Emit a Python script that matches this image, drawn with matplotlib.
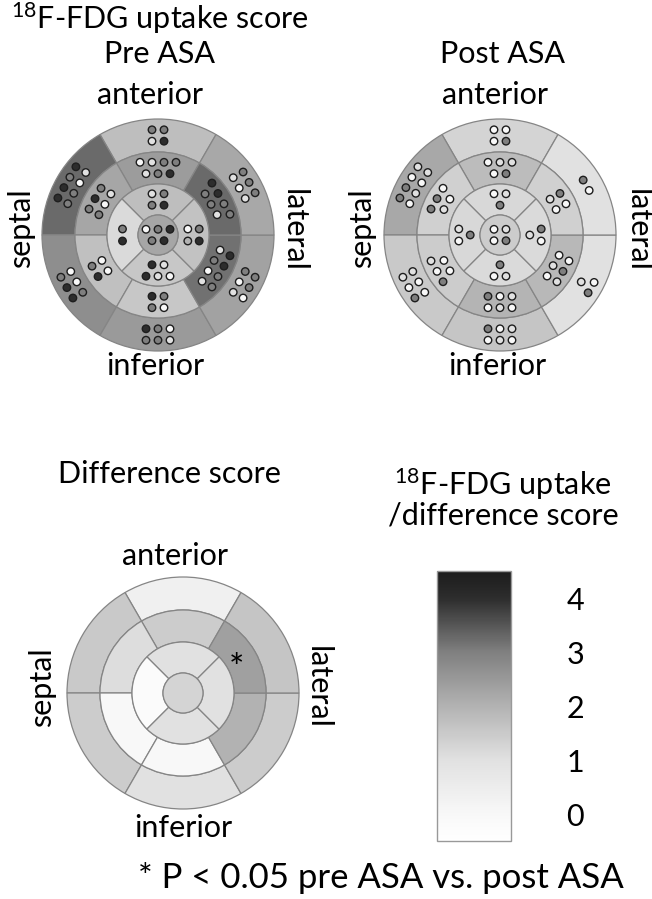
import numpy as np
import matplotlib
matplotlib.use('Agg')
import matplotlib.pyplot as plt
from matplotlib.patches import Wedge, Circle
from matplotlib.colors import LinearSegmentedColormap, Normalize

plt.rcParams['font.family'] = ['Lato', 'DejaVu Sans']
plt.rcParams['mathtext.fontset'] = 'custom'
plt.rcParams['mathtext.rm'] = 'Lato'

# segment scores (AHA 17-segment order: 1-6 basal, 7-12 mid, 13-16 apical, 17 apex)
pre_scores = [1.74, 3.26, 2.72, 2.48, 2.32, 2.20,
              2.44, 2.24, 1.70, 1.57, 3.18, 3.26,
              1.74, 1.15, 1.57, 1.66, 2.24]
post_scores = [1.28, 2.20, 1.53, 1.60, 1.02, 1.02,
               1.79, 1.36, 1.45, 1.96, 1.87, 1.36,
               1.19, 1.19, 1.15, 1.15, 1.45]
diff_scores = [0.35, 1.53, 1.45, 1.00, 1.45, 1.60,
               1.45, 1.10, 0.00, 0.00, 2.00, 2.36,
               1.00, -0.20, 1.00, 1.00, 1.28]

# individual patient scores shown as dots in each segment
pre_dots = [
    [3, 3, 1, 4], [4, 4, 3, 4, 3, 3, 0, 1], [4, 4, 3, 3, 0, 0], [1, 3, 3, 0, 3, 4],
    [3, 3, 0, 3, 0, 1], [3, 3, 3, 1, 0, 1],
    [0, 1, 3, 3, 1, 3, 4], [3, 4, 3, 3, 0, 1], [4, 3, 0, 0], [0, 3, 3, 4],
    [4, 4, 3, 3, 1, 3, 0, 1], [4, 4, 3, 3, 3, 3, 1],
    [1, 3, 3, 4], [4, 3], [0, 1, 4, 1, 4], [3, 4, 0, 2],
    [0, 3, 4, 3, 4],
]
post_dots = [
    [0, 0, 0, 3], [3, 3, 0, 1, 0, 1, 0, 1], [3, 0, 1, 0, 0, 1], [0, 1, 0, 1, 0, 3],
    [0, 3, 1], [3, 0],
    [0, 1, 1, 0, 3], [3, 3, 0, 1, 0], [3, 0, 1, 0, 0], [0, 1, 0, 1, 0, 3],
    [0, 3, 1, 0, 1, 0], [3, 0, 1, 0],
    [0, 1, 3], [0, 1, 3], [1, 0, 3], [3, 0, 1],
    [0, 1, 0, 3],
]
cbar_ticks = [0, 1, 2, 3, 4]

W, H = 652, 899
R = 116.0
ring = [20 / R, 51 / R, 83 / R, 1.0]

# grey scale used in the figure
nodes = [(-0.5, 255), (0, 248), (1, 225), (2, 178), (3, 128), (4, 45), (4.5, 28)]
vmin, vmax = -0.5, 4.5
cmap = LinearSegmentedColormap.from_list(
    'fdg', [((v - vmin) / (vmax - vmin), (g / 255,) * 3) for v, g in nodes])
norm = Normalize(vmin, vmax)

fig = plt.figure(figsize=(W / 100, H / 100), dpi=100)
ax = fig.add_axes([0, 0, 1, 1])
ax.set_xlim(0, W)
ax.set_ylim(0, H)
ax.set_aspect('equal')
ax.axis('off')


def seg_geometry():
    geo = []
    for k in range(6):  # basal
        geo.append((ring[2], ring[3], 60 + 60 * k, 120 + 60 * k))
    for k in range(6):  # mid
        geo.append((ring[1], ring[2], 60 + 60 * k, 120 + 60 * k))
    for k in range(4):  # apical
        geo.append((ring[0], ring[1], 45 + 90 * k, 135 + 90 * k))
    return geo


def dot_positions(n, r0, r1, a0, a1, sp=12.0):
    # dots laid out in rows running along the segment
    if r0 == 0:
        rm, am = 0.0, np.radians(90)
    else:
        rm, am = (r0 + r1) / 2 * R, np.radians((a0 + a1) / 2)
    ncols = n if n <= 2 else int(np.ceil(n / 2))
    nrows = int(np.ceil(n / ncols))
    rad = np.array([np.cos(am), np.sin(am)])
    tan = np.array([np.sin(am), -np.cos(am)])
    c = rm * rad
    pts = []
    for i in range(n):
        row, col = divmod(i, ncols)
        ncol_row = min(ncols, n - row * ncols)
        dc = (col - (ncol_row - 1) / 2) * sp
        dr = -(row - (nrows - 1) / 2) * sp * 0.95
        pts.append(c + dc * tan + dr * rad)
    return np.array(pts)


def bullseye(cx, cy, scores, dots=None):
    cy = H - cy
    geo = seg_geometry()
    for i, (r0, r1, a0, a1) in enumerate(geo):
        ax.add_patch(Wedge((cx, cy), r1 * R, a0, a1, width=(r1 - r0) * R,
                           facecolor=cmap(norm(scores[i])), edgecolor='#858585', lw=0.9))
    ax.add_patch(Circle((cx, cy), ring[0] * R, facecolor=cmap(norm(scores[16])),
                        edgecolor='#858585', lw=0.9))
    if dots is None:
        return
    for i, vals in enumerate(dots):
        if i < 16:
            r0, r1, a0, a1 = geo[i]
        else:
            r0, r1, a0, a1 = 0, ring[0], 0, 360
        p = dot_positions(len(vals), r0, r1, a0, a1)
        ax.scatter(p[:, 0] + cx, p[:, 1] + cy, s=29, c=vals, cmap=cmap, norm=norm,
                   edgecolors='#1e1e1e', linewidths=1.0, zorder=3)


def labels(pos):
    fs = 22
    (xa, ya), (xi, yi), (xs, ys), (xl, yl) = pos
    ax.text(xa, H - ya, 'anterior', ha='center', va='center', fontsize=fs)
    ax.text(xi, H - yi, 'inferior', ha='center', va='center', fontsize=fs)
    ax.text(xs, H - ys, 'septal', ha='center', va='center', fontsize=fs, rotation=90)
    ax.text(xl, H - yl, 'lateral', ha='center', va='center', fontsize=fs, rotation=270)


bullseye(158, 235, pre_scores, pre_dots)
bullseye(500, 235, post_scores, post_dots)
bullseye(183, 693, diff_scores)

labels([(150, 95), (155, 366), (21, 228), (294, 230)])
labels([(495, 95), (497, 366), (362, 228), (638, 230)])
labels([(175, 556), (183, 828), (42, 687), (318, 687)])

ax.text(160, H - 18, r'$\mathregular{^{18}}$F-FDG uptake score', ha='center', va='center', fontsize=22)
ax.text(160, H - 54, 'Pre ASA', ha='center', va='center', fontsize=22)
ax.text(502, H - 54, 'Post ASA', ha='center', va='center', fontsize=22)
ax.text(169, H - 474, 'Difference score', ha='center', va='center', fontsize=22)
ax.text(236, H - 670, '*', ha='center', va='center', fontsize=26)
ax.text(503, H - 498, '$\\mathregular{^{18}}$F-FDG uptake\n/difference score', ha='center',
        va='center', fontsize=22, linespacing=1.0)
ax.text(381, H - 878, '* P < 0.05 pre ASA vs. post ASA', ha='center', va='center', fontsize=25)

# colour bar
cax = fig.add_axes([437 / W, (H - 841) / H, 74 / W, 270 / H])
sm = plt.cm.ScalarMappable(norm=norm, cmap=cmap)
cb = fig.colorbar(sm, cax=cax, ticks=cbar_ticks)
cb.outline.set_edgecolor('#999999')
cb.outline.set_linewidth(1.0)
cax.tick_params(length=0, pad=40, labelsize=22)

fig.savefig('out.png', dpi=100)
